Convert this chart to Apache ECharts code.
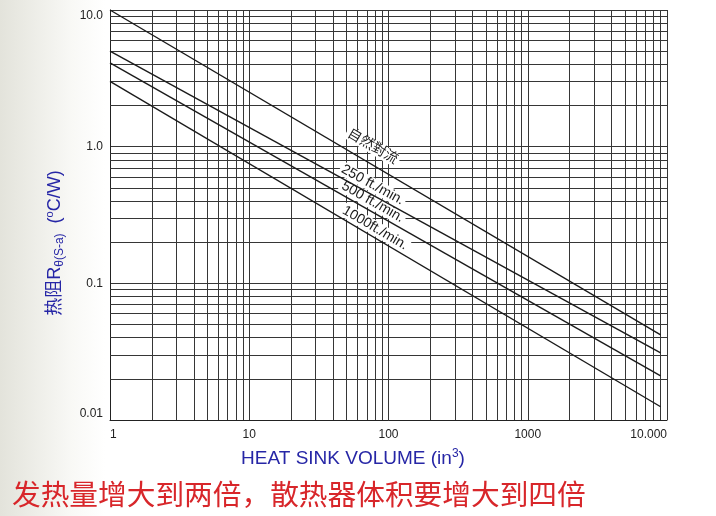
<!DOCTYPE html>
<html><head><meta charset="utf-8">
<script src="https://cdn.jsdelivr.net/npm/echarts@6/dist/echarts.min.js"></script>
<style>
html,body{margin:0;padding:0;width:716px;height:516px;overflow:hidden;}
body{background:linear-gradient(to right,#e3e3db 0px,#ececE6 30px,#f8f8f5 70px,#ffffff 105px);}
#c{width:716px;height:516px;}
</style></head><body><div id="c"></div>
<script>
// ---- data ----
const seriesNames = ['自然對流', '250 ft./min.', '500 ft./min.', '1000ft./min.'];
const volume = [1, 9000];              // in^3 (start / end of each line)
const natural = [10, 0.042];           // °C/W
const ft250 = [5.0, 0.031];
const ft500 = [4.1, 0.021];
const ft1000 = [3.0, 0.0125];
const xTickLabels = ['1', '10', '100', '1000', '10.000'];    // decades 10^0..10^4
const yTickLabels = ['0.01', '0.1', '1.0', '10.0'];          // decades 10^-2..10^1
const labelVolume = [77, 77, 77, 80];
const labelRth = [1.0, 0.525, 0.394, 0.254];
const caption = '发热量增大到两倍，散热器体积要增大到四倍';

const seriesValues = [natural, ft250, ft500, ft1000];
function decadeMinors(lo, hi) {
  const out = [];
  for (let e = lo; e < hi; e++) for (let m = 2; m <= 9; m++) out.push(+(m * Math.pow(10, e)).toPrecision(3));
  return out;
}
const gridColor = '#363636';
const chart = echarts.init(document.getElementById('c'), null, {renderer: 'canvas'});
const gridLines = decadeMinors(0, 4).map(v => ({xAxis: v})).concat(decadeMinors(-2, 1).map(v => ({yAxis: v})));

const series = seriesValues.map((vals, i) => ({
  name: seriesNames[i], type: 'line', symbol: 'none', z: 5, animation: false, silent: true,
  data: volume.map((x, j) => [x, vals[j]]),
  lineStyle: {color: '#1b1b1b', width: 1.4}
}));
series.push({
  type: 'line', data: [], z: 1, silent: true, animation: false,
  markLine: {silent: true, z: 1, animation: false, symbol: ['none', 'none'], label: {show: false},
    lineStyle: {type: 'solid', color: gridColor, width: 1}, emphasis: {disabled: true}, data: gridLines}
});

chart.setOption({
  animation: false,
  grid: {left: 110, right: 49, top: 10, bottom: 96},
  xAxis: {
    type: 'log', logBase: 10, min: 1, max: 10000,
    axisLine: {lineStyle: {color: '#222', width: 1}},
    axisTick: {show: false},
    splitLine: {show: true, lineStyle: {color: gridColor, width: 1}},
    axisLabel: {color: '#222', fontSize: 12, fontFamily: 'Arial', margin: 9,
      alignMinLabel: 'left', alignMaxLabel: 'right',
      formatter: v => xTickLabels[Math.round(Math.log10(v))] || ''}
  },
  yAxis: {
    type: 'log', logBase: 10, min: 0.01, max: 10,
    axisLine: {show: true, lineStyle: {color: '#222', width: 1}},
    axisTick: {show: false},
    splitLine: {show: true, lineStyle: {color: gridColor, width: 1}},
    axisLabel: {color: '#222', fontSize: 12, fontFamily: 'Arial', margin: 7,
      verticalAlignMinLabel: 'bottom', verticalAlignMaxLabel: 'top',
      formatter: v => yTickLabels[Math.round(Math.log10(v)) + 2] || ''}
  },
  series: series
});

const graphics = [];
seriesValues.forEach((vals, i) => {
  const p0 = chart.convertToPixel({gridIndex: 0}, [volume[0], vals[0]]);
  const p1 = chart.convertToPixel({gridIndex: 0}, [volume[1], vals[1]]);
  const ang = Math.atan2(p1[1] - p0[1], p1[0] - p0[0]);
  const pc = chart.convertToPixel({gridIndex: 0}, [labelVolume[i], labelRth[i]]);
  graphics.push({
    type: 'text', x: pc[0], y: pc[1], rotation: -ang, z: 3, silent: true,
    style: {text: seriesNames[i], fill: '#1a1a1a', fontSize: 14,
      fontFamily: 'Arial, "Noto Sans CJK TC"', align: 'center', verticalAlign: 'middle',
      backgroundColor: '#fff', padding: [0, 2]}
  });
});
// y axis title
graphics.push({
  type: 'text', x: 55, y: 243, rotation: Math.PI / 2, silent: true,
  style: {
    text: '{a|热阻R}{s|θ(S-a)}{a|  (}{p|o}{a|C/W)}', align: 'center', verticalAlign: 'middle',
    rich: {
      a: {fill: '#2626a6', fontSize: 18, fontFamily: 'Arial, "Noto Sans CJK SC"', lineHeight: 22, verticalAlign: 'middle'},
      s: {fill: '#2626a6', fontSize: 12, fontFamily: 'Arial', lineHeight: 12, verticalAlign: 'bottom'},
      p: {fill: '#2626a6', fontSize: 11, fontFamily: 'Arial', lineHeight: 11, verticalAlign: 'top'}
    }
  }
});
// x axis title
graphics.push({
  type: 'text', x: 353, y: 459, silent: true,
  style: {
    text: '{a|HEAT SINK VOLUME (in}{p|3}{a|)}', align: 'center', verticalAlign: 'middle',
    rich: {
      a: {fill: '#2626a6', fontSize: 19, fontFamily: 'Arial', lineHeight: 22, verticalAlign: 'middle'},
      p: {fill: '#2626a6', fontSize: 12, fontFamily: 'Arial', lineHeight: 12, verticalAlign: 'top'}
    }
  }
});
// caption
graphics.push({
  type: 'text', x: 12, y: 494, silent: true,
  style: {text: caption, fill: '#d8262a', fontSize: 28.7, fontFamily: '"Noto Sans CJK SC"',
    align: 'left', verticalAlign: 'middle'}
});
chart.setOption({graphic: graphics});
</script>
</body></html>
